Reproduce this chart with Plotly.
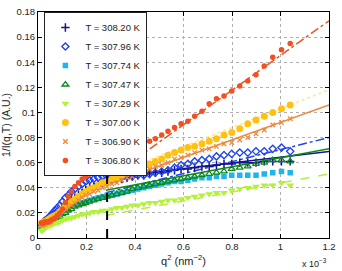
import plotly.graph_objects as go

# q^2 values (units of 1e-3 nm^-2)
q2 = [0.014, 0.019, 0.024, 0.030, 0.037, 0.044, 0.052, 0.061, 0.070, 0.080,
      0.090, 0.101, 0.113, 0.125, 0.138, 0.152, 0.167, 0.182, 0.197, 0.213,
      0.230, 0.248, 0.266, 0.285, 0.305, 0.325, 0.346, 0.367, 0.389, 0.412,
      0.436, 0.460, 0.484, 0.510, 0.536, 0.563, 0.590, 0.618, 0.646, 0.676,
      0.706, 0.736, 0.767, 0.799, 0.832, 0.865, 0.899, 0.933, 0.968, 1.004, 1.040]

labels = ["T = 308.20 K", "T = 307.96 K", "T = 307.74 K", "T = 307.47 K",
          "T = 307.29 K", "T = 307.00 K", "T = 306.90 K", "T = 306.80 K"]

y_30820 = [0.010, 0.011, 0.012, 0.013, 0.014, 0.015, 0.016, 0.018, 0.019, 0.021,
           0.022, 0.024, 0.026, 0.028, 0.030, 0.032, 0.034, 0.036, 0.038, 0.040,
           0.041, 0.043, 0.044, 0.045, 0.046, 0.047, 0.047, 0.048, 0.049, 0.050,
           0.050, 0.051, 0.052, 0.052, 0.053, 0.054, 0.055, 0.055, 0.056, 0.057,
           0.057, 0.058, 0.059, 0.059, 0.060, 0.060, 0.060, 0.061, 0.061, 0.061, 0.061]
y_30796 = [0.011, 0.012, 0.013, 0.014, 0.015, 0.016, 0.018, 0.020, 0.022, 0.024,
           0.026, 0.029, 0.032, 0.034, 0.037, 0.039, 0.041, 0.043, 0.045, 0.046,
           0.047, 0.048, 0.049, 0.049, 0.049, 0.049, 0.049, 0.049, 0.049, 0.050,
           0.050, 0.051, 0.052, 0.053, 0.054, 0.056, 0.058, 0.059, 0.061, 0.062,
           0.063, 0.065, 0.066, 0.067, 0.068, 0.068, 0.069, 0.069, 0.071, 0.072, 0.069]
y_30774 = [0.008, 0.009, 0.009, 0.010, 0.011, 0.012, 0.013, 0.015, 0.016, 0.017,
           0.019, 0.020, 0.022, 0.023, 0.025, 0.026, 0.027, 0.028, 0.029, 0.030,
           0.031, 0.032, 0.033, 0.034, 0.034, 0.035, 0.036, 0.037, 0.038, 0.039,
           0.040, 0.041, 0.042, 0.043, 0.044, 0.045, 0.045, 0.046, 0.047, 0.048,
           0.048, 0.049, 0.049, 0.050, 0.050, 0.050, 0.050, 0.051, 0.052, 0.053, 0.052]
y_30747 = [0.008, 0.008, 0.009, 0.010, 0.011, 0.012, 0.013, 0.014, 0.015, 0.016,
           0.017, 0.019, 0.020, 0.022, 0.023, 0.025, 0.026, 0.027, 0.028, 0.029,
           0.030, 0.031, 0.032, 0.033, 0.034, 0.035, 0.036, 0.037, 0.039, 0.040,
           0.041, 0.042, 0.043, 0.044, 0.045, 0.046, 0.047, 0.048, 0.049, 0.050,
           0.051, 0.052, 0.053, 0.055, 0.056, 0.057, 0.059, 0.060, 0.062, 0.062, 0.061]
y_30729 = [0.006, 0.006, 0.007, 0.008, 0.009, 0.010, 0.010, 0.011, 0.012, 0.012,
           0.013, 0.014, 0.015, 0.016, 0.016, 0.017, 0.018, 0.019, 0.019, 0.020,
           0.021, 0.021, 0.022, 0.022, 0.023, 0.024, 0.024, 0.025, 0.026, 0.026,
           0.027, 0.028, 0.028, 0.029, 0.030, 0.030, 0.031, 0.032, 0.033, 0.034,
           0.035, 0.036, 0.036, 0.038, 0.039, 0.040, 0.041, 0.042, 0.042, 0.044, 0.042]
y_30700 = [0.012, 0.012, 0.013, 0.013, 0.014, 0.015, 0.016, 0.017, 0.018, 0.019,
           0.021, 0.023, 0.025, 0.027, 0.029, 0.031, 0.033, 0.035, 0.037, 0.039,
           0.040, 0.042, 0.044, 0.045, 0.047, 0.048, 0.050, 0.052, 0.053, 0.055,
           0.057, 0.059, 0.061, 0.063, 0.066, 0.068, 0.070, 0.072, 0.073, 0.075,
           0.077, 0.079, 0.082, 0.084, 0.087, 0.091, 0.094, 0.097, 0.100, 0.103, 0.106]
y_30690 = [0.010, 0.010, 0.011, 0.011, 0.012, 0.012, 0.013, 0.015, 0.016, 0.018,
           0.019, 0.021, 0.023, 0.025, 0.026, 0.028, 0.030, 0.032, 0.034, 0.035,
           0.037, 0.038, 0.040, 0.041, 0.043, 0.044, 0.046, 0.048, 0.049, 0.051,
           0.053, 0.055, 0.057, 0.058, 0.060, 0.063, 0.064, 0.066, 0.068, 0.070,
           0.071, 0.073, 0.075, 0.076, 0.078, 0.080, 0.083, 0.086, 0.090, 0.092, 0.095]
y_30680 = [0.012, 0.012, 0.012, 0.013, 0.013, 0.013, 0.014, 0.015, 0.016, 0.018,
           0.020, 0.023, 0.028, 0.033, 0.037, 0.041, 0.044, 0.047, 0.049, 0.051,
           0.053, 0.055, 0.057, 0.059, 0.061, 0.063, 0.065, 0.067, 0.069, 0.072,
           0.074, 0.077, 0.079, 0.082, 0.085, 0.088, 0.091, 0.093, 0.097, 0.101,
           0.107, 0.111, 0.113, 0.117, 0.121, 0.125, 0.130, 0.137, 0.144, 0.150, 0.155]

# linear fits (start / end of q^2 range)
fit_x = [0.28, 1.2]
fit_30820 = [0.048, 0.069]
fit_30796 = [0.036, 0.080]
fit_30747 = [0.038, 0.071]
fit_30729 = [0.018, 0.051]
fit_30700 = [0.049, 0.118]
fit_30690 = [0.042, 0.106]
fit_30680 = [0.046, 0.173]

threshold_q2 = 0.285
threshold_top = 0.092

x_ticks = [0, 0.2, 0.4, 0.6, 0.8, 1, 1.2]
x_ticktext = ["0", "0.2", "0.4", "0.6", "0.8", "1", "1.2"]
y_ticks = [0, 0.02, 0.04, 0.06, 0.08, 0.1, 0.12, 0.14, 0.16, 0.18]
y_ticktext = ["0", "0.02", "0.04", "0.06", "0.08", "0.1", "0.12", "0.14", "0.16", "0.18"]

NAVY = "#14148c"
BLUE = "#1f44f0"
CYAN = "#1fb4ee"
GREEN = "#0b8a1a"
LGREEN = "#b4f03c"
YELLOW = "#ffc214"
ORANGE = "#f0883a"
RED = "#f2501e"

fig = go.Figure()

# fit lines
fits = [
    (fit_30820, NAVY, "solid", 1.5),
    (fit_30796, BLUE, "dashdot", 1.5),
    (fit_30747, GREEN, "solid", 1.5),
    (fit_30729, LGREEN, "dash", 1.5),
    (fit_30700, "#ffe68a", "dot", 1.5),
    (fit_30690, ORANGE, "solid", 1.5),
    (fit_30680, RED, "dashdot", 1.5),
]
for fy, col, dash, w in fits:
    fig.add_trace(go.Scatter(x=fit_x, y=fy, mode="lines", showlegend=False,
                             line=dict(color=col, dash=dash, width=w), hoverinfo="skip"))

series = [
    (y_30820, labels[0], dict(symbol="cross-thin", size=6, color=NAVY, line=dict(color=NAVY, width=1.5))),
    (y_30796, labels[1], dict(symbol="diamond-open", size=5.5, color=BLUE, line=dict(color=BLUE, width=1.4))),
    (y_30774, labels[2], dict(symbol="square", size=5.5, color=CYAN, line=dict(width=0))),
    (y_30747, labels[3], dict(symbol="triangle-up-open", size=6, color=GREEN, line=dict(color=GREEN, width=1.3))),
    (y_30729, labels[4], dict(symbol="triangle-down", size=7, color=LGREEN, line=dict(width=0))),
    (y_30700, labels[5], dict(symbol="circle", size=7, color=YELLOW, line=dict(width=0))),
    (y_30690, labels[6], dict(symbol="x-thin", size=4.5, color=ORANGE, line=dict(color=ORANGE, width=1.3))),
    (y_30680, labels[7], dict(symbol="circle", size=5.5, color=RED, line=dict(width=0))),
]
for ys, name, mk in series:
    fig.add_trace(go.Scatter(x=q2, y=ys, mode="markers", name=name, marker=mk))

fig.add_shape(type="line", x0=threshold_q2, x1=threshold_q2, y0=0, y1=threshold_top,
              xref="x", yref="y", line=dict(color="black", width=2, dash="dash"))

FONT = "Liberation Sans, Arial, sans-serif"
axis_common = dict(showline=True, linecolor="black", linewidth=1, mirror="ticks",
                   ticks="inside", ticklen=4, tickcolor="black",
                   showgrid=True, gridcolor="#b0b0b0", griddash="dot", gridwidth=1,
                   zeroline=False, tickfont=dict(size=9.5, color="#222", family=FONT))

fig.update_xaxes(range=[0, 1.2], tickvals=x_ticks, ticktext=x_ticktext,
                 title=dict(text="q<sup>2</sup> (nm<sup>−2</sup>)", font=dict(size=11, family=FONT, color="#222"), standoff=5),
                 **axis_common)
fig.update_yaxes(range=[0, 0.18], tickvals=y_ticks, ticktext=y_ticktext,
                 title=dict(text="1/I(q,T) (A.U.)", font=dict(size=10.5, family=FONT, color="#222"), standoff=3),
                 **axis_common)

fig.add_annotation(text="x 10<sup>−3</sup>", xref="paper", yref="paper", x=1.0, y=-0.075,
                   xanchor="right", yanchor="top", showarrow=False,
                   font=dict(size=9, family=FONT, color="#222"))

fig.update_layout(
    width=342, height=271,
    margin=dict(l=38, r=7, t=6, b=29),
    paper_bgcolor="white", plot_bgcolor="white",
    font=dict(family=FONT, color="#222"),
    legend=dict(x=0.022, y=1.0, xanchor="left", yanchor="top",
                bgcolor="white", bordercolor="#222", borderwidth=1,
                font=dict(size=9.5, family=FONT, color="#222"),
                tracegroupgap=0, itemsizing="trace", itemwidth=30),
)

fig.write_html("out.html")
